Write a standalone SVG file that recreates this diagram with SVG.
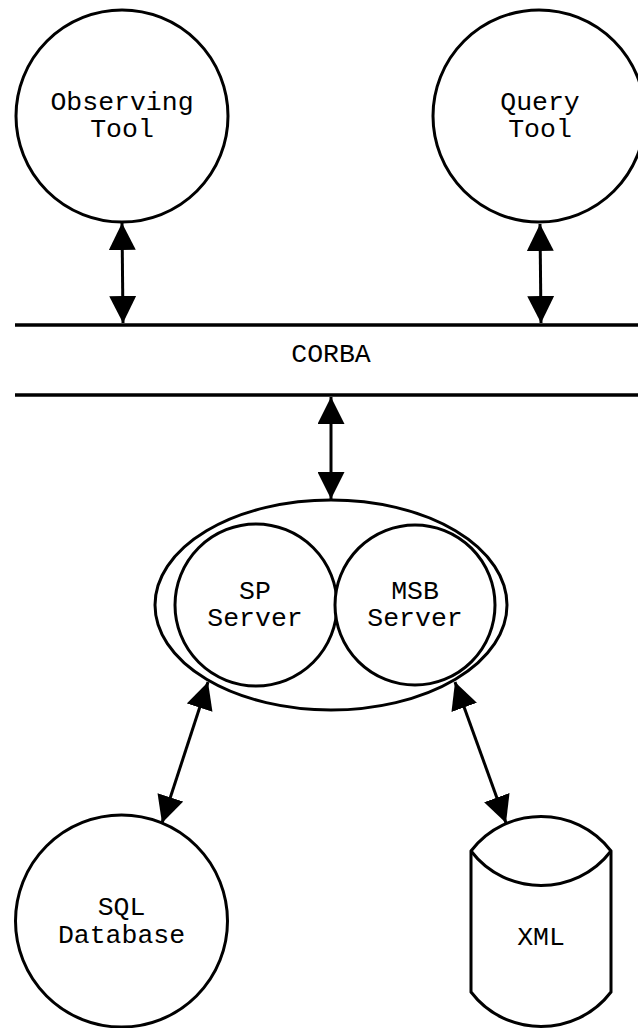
<svg xmlns="http://www.w3.org/2000/svg" width="638" height="1028" viewBox="0 0 638 1028">
<style>
.shape{fill:#fff;stroke:#000;stroke-width:3}
.bar{stroke:#000;stroke-width:3.5;fill:none}
.edge{stroke:#000;stroke-width:3;fill:none;marker-start:url(#ah);marker-end:url(#ah)}
text{font-family:"Liberation Mono","Courier New",monospace;font-size:26.5px;fill:#000;text-anchor:middle}
</style>
<defs>
<marker id="ah" viewBox="0 0 27 27" refX="27" refY="13.5" markerWidth="27" markerHeight="27" markerUnits="userSpaceOnUse" orient="auto-start-reverse">
<path d="M0,0 L27,13.5 L0,27 Z" fill="#000"/>
</marker>
</defs>
<rect width="638" height="1028" fill="#fff"/>
<g id="corba">
<line class="bar" x1="15" y1="325" x2="638" y2="325"/>
<line class="bar" x1="15" y1="395" x2="638" y2="395"/>
<text x="331" y="362">CORBA</text>
</g>
<g id="observing-tool">
<circle class="shape" cx="122" cy="116" r="106"/>
<text x="122" y="109.5">Observing</text>
<text x="122" y="137">Tool</text>
</g>
<g id="query-tool">
<circle class="shape" cx="539" cy="116" r="106"/>
<text x="540" y="109.5">Query</text>
<text x="540" y="137">Tool</text>
</g>
<g id="servers">
<ellipse class="shape" cx="331" cy="605" rx="176" ry="105"/>
</g>
<g id="sp-server">
<circle class="shape" cx="256" cy="605" r="81"/>
<text x="255" y="598.5">SP</text>
<text x="255" y="626">Server</text>
</g>
<g id="msb-server">
<circle class="shape" cx="415" cy="605" r="80"/>
<text x="415" y="598.5">MSB</text>
<text x="415" y="626">Server</text>
</g>
<g id="sql-database">
<circle class="shape" cx="121.5" cy="921" r="106"/>
<text x="121.5" y="915">SQL</text>
<text x="121.5" y="943">Database</text>
</g>
<g id="xml">
<path class="shape" d="M471,851 C506,805 576,805 611,851 L611,992 C576,1038 506,1038 471,992 Z"/>
<path class="shape" style="fill:none" d="M471,851 C506,897 576,897 611,851"/>
<text x="541" y="945">XML</text>
</g>
<g id="connectors">
<path class="edge" d="M122,223 L123,323"/>
<path class="edge" d="M540,224 L541,323"/>
<path class="edge" d="M331,397 L331,499"/>
<path class="edge" d="M208,682 L162,823"/>
<path class="edge" d="M455,682 L506,823"/>
</g>
</svg>
